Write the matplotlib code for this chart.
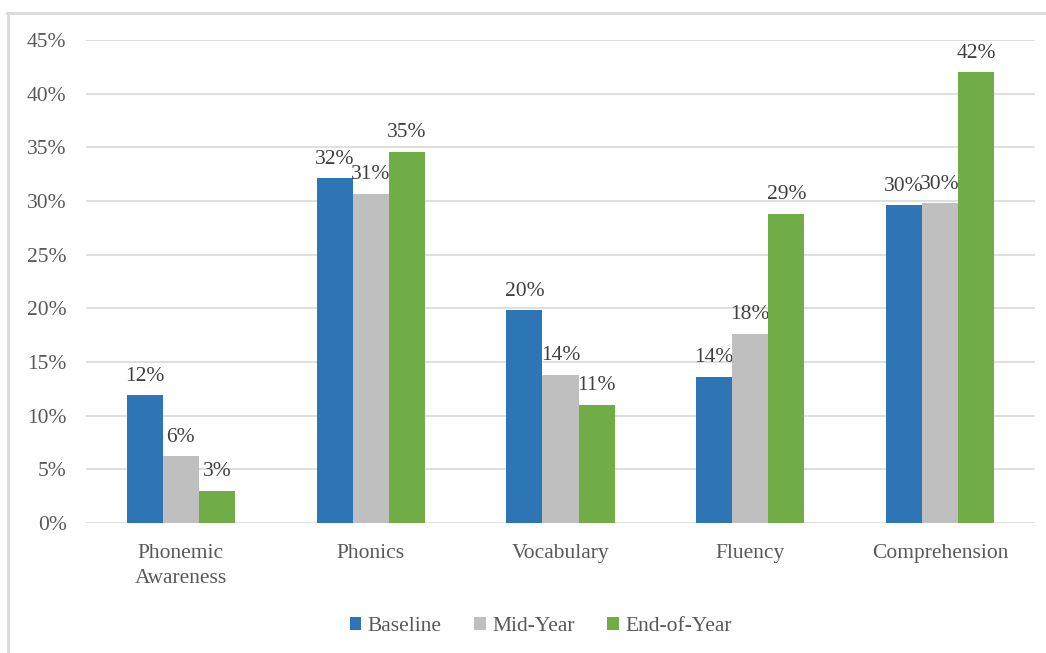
import numpy as np
import matplotlib
matplotlib.use('Agg')
import matplotlib.pyplot as plt
from matplotlib.lines import Line2D
from matplotlib.ticker import PercentFormatter

plt.rcParams['font.family'] = ['Liberation Serif', 'DejaVu Serif']

categories = ['Phonemic\nAwareness', 'Phonics', 'Vocabulary', 'Fluency', 'Comprehension']
series_names = ['Baseline', 'Mid-Year', 'End-of-Year']
baseline = [0.119, 0.321, 0.198, 0.136, 0.296]
mid_year = [0.062, 0.307, 0.138, 0.176, 0.298]
end_of_year = [0.030, 0.346, 0.110, 0.288, 0.420]
colors = ['#2E75B6', '#BFBFBF', '#70AD47']

fig = plt.figure(figsize=(10.46, 6.53), dpi=100)
ax = fig.add_axes([0.0822, 0.1991, 0.9073, 0.7396])

x = np.arange(len(categories))
width = 0.19
series = [baseline, mid_year, end_of_year]
for i, (vals, name, c) in enumerate(zip(series, series_names, colors)):
    pos = x + (i - 1) * width
    bars = ax.bar(pos, vals, width, color=c, label=name, zorder=3)
    for b, v in zip(bars, vals):
        ax.text(b.get_x() + b.get_width() / 2, v + 0.009, f'{v * 100:.0f}%',
                ha='center', va='bottom', fontsize=15.5, color='#404040')

ax.set_xlim(-0.5, len(categories) - 0.5)
ax.set_ylim(0, 0.45)
ax.set_yticks(np.arange(0, 0.451, 0.05))
ax.yaxis.set_major_formatter(PercentFormatter(1.0, decimals=0))
ax.set_xticks(x)
ax.set_xticklabels(categories, linespacing=1.45)
ax.grid(axis='y', color='#D9D9D9', linewidth=1.2, zorder=0)
for s in ax.spines.values():
    s.set_visible(False)
ax.tick_params(axis='both', length=0, labelsize=15.5, colors='#595959')
ax.tick_params(axis='x', pad=15)
ax.tick_params(axis='y', pad=14)

leg = fig.legend(loc='center', bbox_to_anchor=(0.517, 0.04), ncol=3, frameon=False,
                 fontsize=15.5, handlelength=0.55, handleheight=0.55, handletextpad=0.3,
                 columnspacing=1.5, labelcolor='#595959')

# outer frame (top and left edges)
fig.add_artist(Line2D([7 / 1046, 1.0], [1 - 13 / 653, 1 - 13 / 653],
                      transform=fig.transFigure, color='#D9D9D9', linewidth=2))
fig.add_artist(Line2D([8 / 1046, 8 / 1046], [0, 1 - 13 / 653],
                      transform=fig.transFigure, color='#D9D9D9', linewidth=2))

fig.savefig('out.png', dpi=100, facecolor='white')
